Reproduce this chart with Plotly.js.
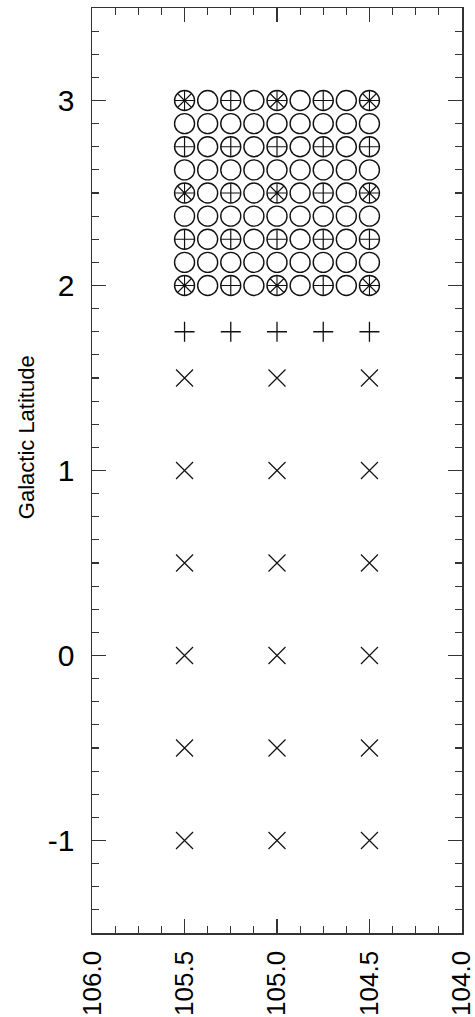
<!DOCTYPE html>
<html>
<head>
<meta charset="utf-8">
<script src="https://cdn.plot.ly/plotly-3.0.1.min.js"></script>
<style>html,body{margin:0;padding:0;background:#fff;}#chart{width:475px;height:1017px;}</style>
</head>
<body>
<div id="chart"></div>
<script>
// Grid of observed positions (Galactic longitude / latitude)
var gridLon = [105.5, 105.375, 105.25, 105.125, 105.0, 104.875, 104.75, 104.625, 104.5];
var gridLat = [2.0, 2.125, 2.25, 2.375, 2.5, 2.625, 2.75, 2.875, 3.0];

// Circles that also carry a plus
var crossLon = [105.25, 104.75, 105.25, 104.75, 105.25, 104.75,
                105.5, 105.25, 105.0, 104.75, 104.5,
                105.5, 105.25, 105.0, 104.75, 104.5];
var crossLat = [3.0, 3.0, 2.5, 2.5, 2.0, 2.0,
                2.75, 2.75, 2.75, 2.75, 2.75,
                2.25, 2.25, 2.25, 2.25, 2.25];

// Circles that also carry an asterisk
var starLon = [105.5, 105.0, 104.5, 105.5, 105.0, 104.5, 105.5, 105.0, 104.5];
var starLat = [3.0, 3.0, 3.0, 2.5, 2.5, 2.5, 2.0, 2.0, 2.0];

// Plus markers row
var plusLon = [105.5, 105.25, 105.0, 104.75, 104.5];
var plusLat = [1.75, 1.75, 1.75, 1.75, 1.75];

// X markers
var xLonCols = [105.5, 105.0, 104.5];
var xLatRows = [1.5, 1.0, 0.5, 0.0, -0.5, -1.0];

var xTickVals = [106.0, 105.5, 105.0, 104.5, 104.0];
var xTickText = ['106.0', '105.5', '105.0', '104.5', '104.0'];
var yTickVals = [-1, 0, 1, 2, 3];
var yTickText = ['-1', '0', '1', '2', '3'];

var circLon = [], circLat = [];
gridLat.forEach(function (la) { gridLon.forEach(function (lo) { circLon.push(lo); circLat.push(la); }); });
var xLon = [], xLat = [];
xLatRows.forEach(function (la) { xLonCols.forEach(function (lo) { xLon.push(lo); xLat.push(la); }); });

var lineCol = '#111';
var traces = [
  {x: circLon, y: circLat, mode: 'markers', type: 'scatter',
   marker: {symbol: 'circle-open', size: 20, color: lineCol, line: {width: 1.4, color: lineCol}}},
  {x: crossLon, y: crossLat, mode: 'markers', type: 'scatter',
   marker: {symbol: 'cross-thin-open', size: 14.3, color: lineCol, line: {width: 1.2, color: lineCol}}},
  {x: starLon, y: starLat, mode: 'markers', type: 'scatter',
   marker: {symbol: 'asterisk-open', size: 16.5, color: lineCol, line: {width: 1.1, color: lineCol}}},
  {x: plusLon, y: plusLat, mode: 'markers', type: 'scatter',
   marker: {symbol: 'cross-thin-open', size: 14.3, color: lineCol, line: {width: 1.3, color: lineCol}}},
  {x: xLon, y: xLat, mode: 'markers', type: 'scatter',
   marker: {symbol: 'x-thin-open', size: 17, color: lineCol, line: {width: 1.2, color: lineCol}}}
];

var axCol = '#333';
var fam = 'Liberation Sans, Arial, sans-serif';
var layout = {
  width: 475, height: 1017,
  margin: {l: 92, r: 13, t: 8, b: 84, pad: 0},
  paper_bgcolor: '#fff', plot_bgcolor: '#fff',
  showlegend: false,
  font: {family: fam, color: '#000'},
  xaxis: {
    range: [106.0005, 103.9995], showgrid: false, zeroline: false,
    showline: true, linecolor: axCol, linewidth: 1.5, mirror: 'ticks',
    ticks: 'inside', ticklen: 14, tickwidth: 1.3, tickcolor: axCol,
    tickmode: 'array', tickvals: xTickVals, ticktext: xTickText,
    tickangle: -90, tickfont: {size: 26, family: fam},
    ticklabelstandoff: 6, ticklabeloverflow: 'allow',
    minor: {dtick: 0.125, tick0: 0, ticks: 'inside', ticklen: 7, tickwidth: 1.2, tickcolor: axCol, showgrid: false}
  },
  yaxis: {
    range: [-1.5, 3.5], showgrid: false, zeroline: false,
    showline: true, linecolor: axCol, linewidth: 1.5, mirror: 'ticks',
    ticks: 'inside', ticklen: 14, tickwidth: 1.3, tickcolor: axCol,
    tickmode: 'array', tickvals: yTickVals, ticktext: yTickText,
    tickfont: {size: 30, family: fam},
    ticklabelstandoff: 10, ticklabeloverflow: 'allow',
    minor: {dtick: 0.125, tick0: 0, ticks: 'inside', ticklen: 7, tickwidth: 1.2, tickcolor: axCol, showgrid: false}
  },
  annotations: [{
    text: 'Galactic Latitude', textangle: -90, showarrow: false,
    xref: 'paper', x: (26 - 92) / 370, xanchor: 'center',
    yref: 'y', y: 1.18, yanchor: 'middle',
    font: {size: 22, family: fam, color: '#000'}
  }]
};

Plotly.newPlot('chart', traces, layout, {displayModeBar: false, staticPlot: true});
</script>
</body>
</html>
